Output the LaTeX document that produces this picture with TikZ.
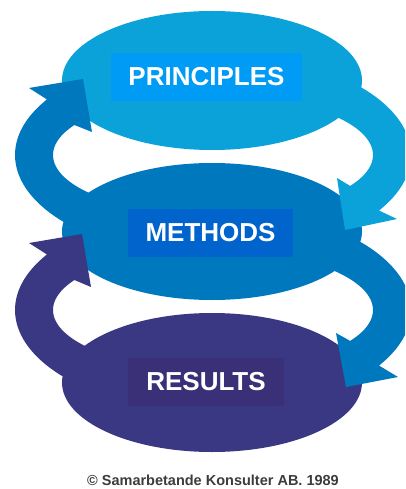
\documentclass[tikz,border=0pt]{standalone}
\usepackage{fontspec}
\setmainfont{Liberation Sans}
\definecolor{topc}{RGB}{10,162,216}
\definecolor{midc}{RGB}{0,120,190}
\definecolor{botc}{RGB}{58,56,130}
\definecolor{boxtop}{RGB}{0,155,245}
\definecolor{boxmid}{RGB}{0,100,204}
\definecolor{boxbot}{RGB}{58,48,120}
\definecolor{notec}{RGB}{60,60,60}
\begin{document}
\begin{tikzpicture}[x=1pt,y=-1pt,
  label box/.style={inner sep=0pt, text=white,
    font=\fontsize{26}{26}\selectfont\bfseries},
  note/.style={text=notec, inner sep=0pt,
    font=\fontsize{14.5}{15}\selectfont\bfseries}]
\useasboundingbox (0,0) rectangle (405,489);
\begin{scope}
\clip (0,0) rectangle (405,489);

% the three stages
\fill[topc] (212,80.5) ellipse [x radius=150, y radius=69.5];
\fill[midc] (212,231.5) ellipse [x radius=150, y radius=68.5];
\fill[botc] (212,382.5) ellipse [x radius=150, y radius=69.5];

% curved arrows: a ring of outer radii 198/102 and inner radii 160/60
% upper loop, left side: from METHODS up to PRINCIPLES
\fill[midc] (29,88) -- (83,79) -- (92,132)
  -- plot[domain=210:125, samples=40] ({213+160*cos(\x)},{155+60*sin(\x)})
  -- plot[domain=125:213, samples=40] ({213+198*cos(\x)},{155+102*sin(\x)})
  -- cycle;
% lower loop, left side: from RESULTS up to METHODS
\fill[botc] (29,243) -- (82,234) -- (91,287)
  -- plot[domain=210:125, samples=40] ({213+160*cos(\x)},{310+60*sin(\x)})
  -- plot[domain=125:213, samples=40] ({213+198*cos(\x)},{310+102*sin(\x)})
  -- cycle;
% lower loop, right side: from METHODS down to RESULTS
\fill[midc] (398,377) -- (346,387) -- (336,333)
  -- plot[domain=31:-55, samples=40] ({213+160*cos(\x)},{310+60*sin(\x)})
  -- plot[domain=-55:33, samples=40] ({213+198*cos(\x)},{310+102*sin(\x)})
  -- cycle;
% upper loop, right side: from PRINCIPLES down to METHODS
\fill[topc] (397,219) -- (345,230) -- (337,178)
  -- plot[domain=31:-55, samples=40] ({213+160*cos(\x)},{155+60*sin(\x)})
  -- plot[domain=-55:33, samples=40] ({213+198*cos(\x)},{155+102*sin(\x)})
  -- cycle;
\end{scope}

% labels
\node[label box, fill=boxtop, minimum width=191pt, minimum height=48pt]
  (principles) at (206.5,77) {PRINCIPLES};
\node[label box, fill=boxmid, minimum width=165pt, minimum height=48pt]
  (methods) at (210.5,233) {METHODS};
\node[label box, fill=boxbot, minimum width=156pt, minimum height=48pt]
  (results) at (206,382) {RESULTS};

\node[note, anchor=base] (copyright) at (213,485.5)
  {© Samarbetande Konsulter AB. 1989};
\end{tikzpicture}
\end{document}
